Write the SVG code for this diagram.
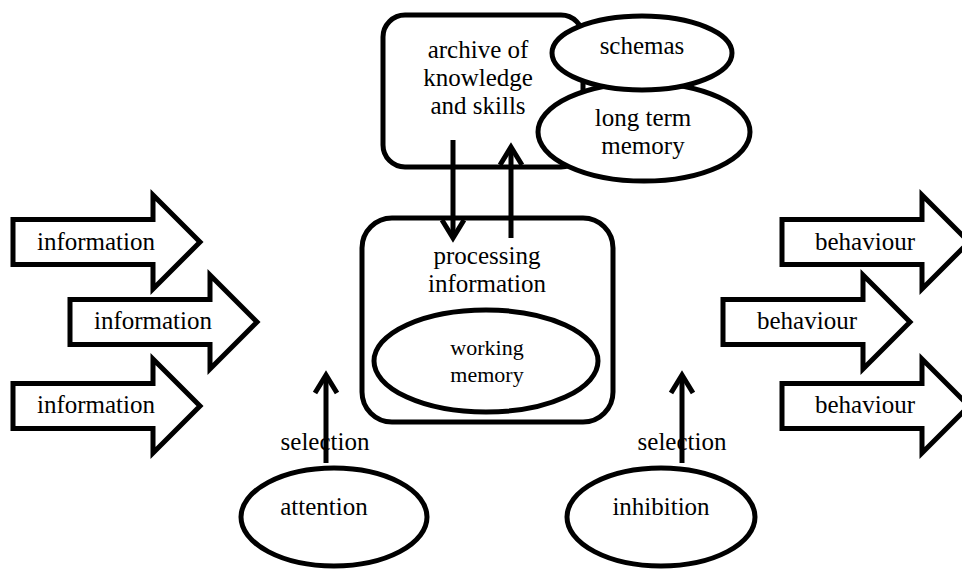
<svg xmlns="http://www.w3.org/2000/svg" width="962" height="569" viewBox="0 0 962 569">
<style>
.s{fill:#fff;stroke:#000;stroke-width:5;stroke-linejoin:miter}
.t{font-family:"Liberation Serif","Times New Roman",serif;font-size:25px;fill:#000;text-anchor:middle}
.sm{font-size:22px}
.c{fill:none;stroke:#000;stroke-width:5}
</style>
<defs>
<path id="blk" d="M0,-22.5 H140 V-47 L187,0 L140,47 V22.5 H0 Z"/>
<marker id="ah" markerUnits="userSpaceOnUse" markerWidth="40" markerHeight="40" viewBox="-30 -20 40 40" refX="0" refY="0" orient="auto" overflow="visible">
<path d="M-18,-11 L0,0 L-18,11" fill="none" stroke="#000" stroke-width="5" stroke-linejoin="miter" stroke-miterlimit="10"/>
</marker>
</defs>
<rect width="962" height="569" fill="#fff"/>

<g id="info1"><use href="#blk" class="s" transform="translate(13,242)"/><text class="t" x="96" y="250">information</text></g>
<g id="info2"><use href="#blk" class="s" transform="translate(70,322)"/><text class="t" x="153" y="329">information</text></g>
<g id="info3"><use href="#blk" class="s" transform="translate(13,406)"/><text class="t" x="96" y="413">information</text></g>

<g id="beh1"><use href="#blk" class="s" transform="translate(782,242)"/><text class="t" x="865" y="250">behaviour</text></g>
<g id="beh2"><use href="#blk" class="s" transform="translate(723,322)"/><text class="t" x="807" y="329">behaviour</text></g>
<g id="beh3"><use href="#blk" class="s" transform="translate(782,406)"/><text class="t" x="865" y="413">behaviour</text></g>

<g id="archive">
<rect class="s" x="383" y="15" width="200" height="152" rx="22"/>
<text class="t" x="478" y="58">archive of</text>
<text class="t" x="478" y="86">knowledge</text>
<text class="t" x="478" y="114">and skills</text>
</g>
<g id="ltm">
<ellipse class="s" cx="644" cy="132" rx="106" ry="49"/>
<text class="t" x="643" y="126">long term</text>
<text class="t" x="643" y="154">memory</text>
</g>
<g id="schemas">
<ellipse class="s" cx="642" cy="53" rx="90" ry="37"/>
<text class="t" x="642" y="54">schemas</text>
</g>

<g id="processing">
<rect class="s" x="362" y="218" width="251" height="204" rx="30"/>
<text class="t" x="487" y="264">processing</text>
<text class="t" x="487" y="292">information</text>
</g>
<g id="working">
<ellipse class="s" cx="486" cy="361" rx="112" ry="51"/>
<text class="t sm" x="487" y="355">working</text>
<text class="t sm" x="487" y="382">memory</text>
</g>

<g id="attention">
<ellipse class="s" cx="334" cy="517" rx="93" ry="49"/>
<text class="t" x="324" y="515">attention</text>
</g>
<g id="inhibition">
<ellipse class="s" cx="661" cy="517" rx="94" ry="49"/>
<text class="t" x="661" y="515">inhibition</text>
</g>

<g id="connectors">
<text class="t" x="325" y="450">selection</text>
<text class="t" x="682" y="450">selection</text>
<path class="c" d="M326,463 V375" marker-end="url(#ah)"/>
<path class="c" d="M682,463 V375" marker-end="url(#ah)"/>
<path class="c" d="M453,140 V238" marker-end="url(#ah)"/>
<path class="c" d="M511,238 V147" marker-end="url(#ah)"/>
</g>
</svg>
